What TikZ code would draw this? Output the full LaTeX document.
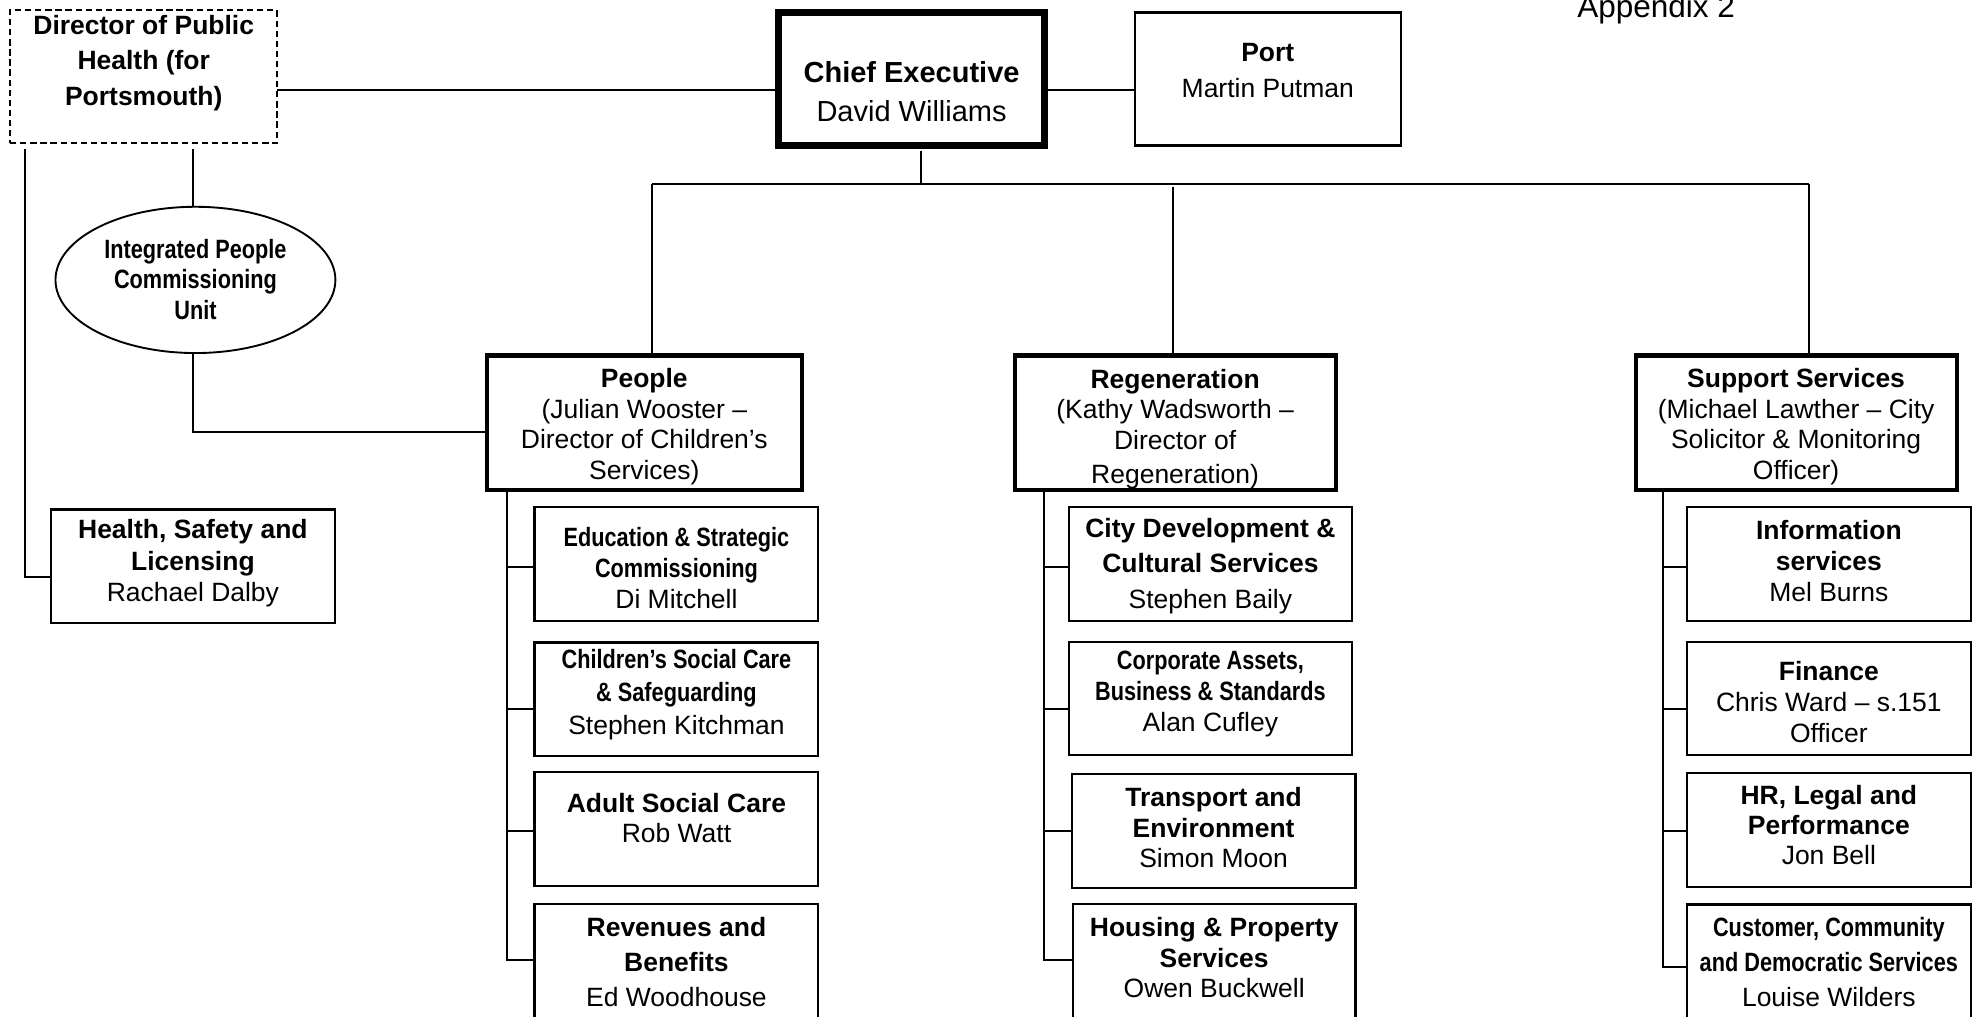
\documentclass[tikz,border=0pt]{standalone}
\usepackage{fontspec}
\setmainfont{Liberation Sans}
\newfontfamily\narrowfont[FakeStretch=0.82]{Liberation Sans}
\usetikzlibrary{fit,shapes.geometric}
\newcommand\fsz[2]{\fontsize{#1}{#2}\selectfont}
\newcommand\nb[1]{{\narrowfont\bfseries #1}}
\newcommand\rb[1]{{\bfseries #1}}
\begin{document}
\begin{tikzpicture}[x=1pt,y=-1pt,
  box/.style={draw, line width=1.8pt, inner sep=0pt, outer sep=0pt},
  thickbox/.style={box, line width=3.4pt},
  chiefbox/.style={box, line width=5.3pt},
  dashbox/.style={box, line width=1.4pt, dash pattern=on 5pt off 3pt},
  conn/.style={line width=1.6pt},
  txt/.style={align=center, inner sep=0pt, font=\fsz{21}{24.5}}]
\useasboundingbox (0,0) rectangle (1568,806);
\clip (0,0) rectangle (1568,806);

% ---------- top row ----------
\node[dashbox, fit={(8,8) (219.6,113.7)}] (dph) {};
\node[txt, font=\fsz{21}{28}] (dph-t) at (114,50) {\rb{Director of Public}\\\rb{Health (for}\\\rb{Portsmouth)}};

\node[chiefbox, fit={(617.7,10) (828.3,115.4)}] (chief) {};
\node[txt, font=\fsz{23}{31}] (chief-t) at (723,73) {\rb{Chief Executive}\\David Williams};

\node[box, fit={(900,10) (1111,115.5)}] (port) {};
\node[txt, font=\fsz{21}{29}] (port-t) at (1005.5,56) {\rb{Port}\\Martin Putman};

\node[font=\fsz{25}{30}, anchor=base, inner sep=0pt] (app) at (1313.5,13.5) {Appendix 2};

\draw[conn] (dph.east |- 0,71) -- (chief.west |- 0,71);
\draw[conn] (chief.east |- 0,71) -- (port.west |- 0,71);

% ---------- ellipse ----------
\node[draw, ellipse, line width=1.5pt, minimum width=222pt, minimum height=116pt, inner sep=0pt] (ipcu) at (155,222) {};
\node[txt, font=\fsz{21}{24}] (ipcu-t) at (155,221.5) {\nb{Integrated People}\\\nb{Commissioning}\\\nb{Unit}};

% ---------- health ----------
\node[box, fit={(40.6,404) (265.6,494)}] (health) {};
\node[txt, font=\fsz{21}{25}] (health-t) at (153,447) {\rb{Health, Safety and}\\\rb{Licensing}\\Rachael Dalby};

% ---------- directorates ----------
\node[thickbox, fit={(386,282) (636,388.5)}] (people) {};
\node[txt, font=\fsz{21}{24.3}] (people-t) at (511,338.5) {\rb{People}\\(Julian Wooster --\\Director of Children’s\\Services)};

\node[thickbox, fit={(805,282) (1059.5,388.5)}] (regen) {};
\node[txt, font=\fsz{21}{24.3}] (regen-t) at (932,340) {\rb{Regeneration}\\(Kathy Wadsworth --\\Director of\\[2.5pt]Regeneration)};

\node[thickbox, fit={(1297.5,282) (1552,388.5)}] (support) {};
\node[txt, font=\fsz{21}{24.3}] (support-t) at (1424.5,338.5) {\rb{Support Services}\\(Michael Lawther -- City\\Solicitor \& Monitoring\\Officer)};

% ---------- People children ----------
\node[box, fit={(424,402) (649,492.5)}] (edu) {};
\node[txt, font=\fsz{21}{24.5}] (edu-t) at (536.5,450.5) {\nb{Education \& Strategic}\\\nb{Commissioning}\\Di Mitchell};
\node[box, fit={(424,509.5) (649,599.6)}] (chi) {};
\node[txt, font=\fsz{21}{26}] (chi-t) at (536.5,551) {\nb{Children’s Social Care}\\\nb{\& Safeguarding}\\Stephen Kitchman};
\node[box, fit={(424,612) (649,702.8)}] (adu) {};
\node[txt, font=\fsz{21}{24}] (adu-t) at (536.5,648.5) {\rb{Adult Social Care}\\Rob Watt};
\node[box, fit={(424,717) (649,830)}] (rev) {};
\node[txt, font=\fsz{21}{28}] (rev-t) at (536.5,763) {\rb{Revenues and}\\\rb{Benefits}\\Ed Woodhouse};

\coordinate (ptr) at (402,0);
\draw[conn] (people.south -| ptr) |- (rev.west |- 0,761);
\draw[conn] (ptr |- 0,450) -- (edu.west |- 0,450);
\draw[conn] (ptr |- 0,562) -- (chi.west |- 0,562);
\draw[conn] (ptr |- 0,659) -- (adu.west |- 0,659);

% ---------- Regeneration children ----------
\node[box, fit={(848,402) (1072,492.5)}] (city) {};
\node[txt, font=\fsz{21}{28}] (city-t) at (960,449) {\rb{City Development \&}\\\rb{Cultural Services}\\Stephen Baily};
\node[box, fit={(848,509) (1072,599)}] (corp) {};
\node[txt, font=\fsz{21}{24.5}] (corp-t) at (960,550.5) {\nb{Corporate Assets,}\\\nb{Business \& Standards}\\Alan Cufley};
\node[box, fit={(850,614) (1075,704)}] (trans) {};
\node[txt, font=\fsz{21}{24}] (trans-t) at (962.5,656.5) {\rb{Transport and}\\\rb{Environment}\\Simon Moon};
\node[box, fit={(851,717) (1075,830)}] (hous) {};
\node[txt, font=\fsz{21}{24}] (hous-t) at (963,759.5) {\rb{Housing \& Property}\\\rb{Services}\\Owen Buckwell};

\coordinate (rtr) at (828,0);
\draw[conn] (regen.south -| rtr) |- (hous.west |- 0,761);
\draw[conn] (rtr |- 0,450) -- (city.west |- 0,450);
\draw[conn] (rtr |- 0,562) -- (corp.west |- 0,562);
\draw[conn] (rtr |- 0,659) -- (trans.west |- 0,659);

% ---------- Support children ----------
\node[box, fit={(1338,402) (1563,492.5)}] (info) {};
\node[txt, font=\fsz{21}{24.5}] (info-t) at (1450.5,445) {\rb{Information}\\\rb{services}\\Mel Burns};
\node[box, fit={(1338,509) (1563,598.7)}] (fin) {};
\node[txt, font=\fsz{21}{24.5}] (fin-t) at (1450.5,557) {\rb{Finance}\\Chris Ward -- s.151\\Officer};
\node[box, fit={(1338,613) (1563,703.4)}] (hr) {};
\node[txt, font=\fsz{21}{24}] (hr-t) at (1450.5,654.5) {\rb{HR, Legal and}\\\rb{Performance}\\Jon Bell};
\node[box, fit={(1338,717.4) (1563,830)}] (cust) {};
\node[txt, font=\fsz{21}{28}] (cust-t) at (1450.5,763) {\nb{Customer, Community}\\\nb{and Democratic Services}\\Louise Wilders};

\coordinate (str) at (1319,0);
\draw[conn] (support.south -| str) |- (cust.west |- 0,767);
\draw[conn] (str |- 0,450) -- (info.west |- 0,450);
\draw[conn] (str |- 0,562) -- (fin.west |- 0,562);
\draw[conn] (str |- 0,659) -- (hr.west |- 0,659);

% ---------- chief to directorates ----------
\coordinate (busC) at (730.5,146);
\coordinate (busL) at (517,146);
\coordinate (busM) at (930,146);
\coordinate (busR) at (1435,146);
\coordinate (busMtop) at (930,148);
\draw[conn] (chief.south -| busC) ++(0,4) -- (busC);
\draw[conn] (busL) -- (busR);
\draw[conn] (busL) -- (busL |- people.north);
\draw[conn] (busMtop) -- (busMtop |- regen.north);
\draw[conn] (busR) -- (busR |- support.north);

% ---------- Director of Public Health links ----------
\coordinate (dl) at (20,118);
\coordinate (dm) at (153,118);
\draw[conn] (dl) |- (health.west |- 0,457.5);
\draw[conn] (dm) -- (dm |- ipcu.north);
\draw[conn] (ipcu.south -| dm) |- (people.west |- 0,343);
\end{tikzpicture}
\end{document}
